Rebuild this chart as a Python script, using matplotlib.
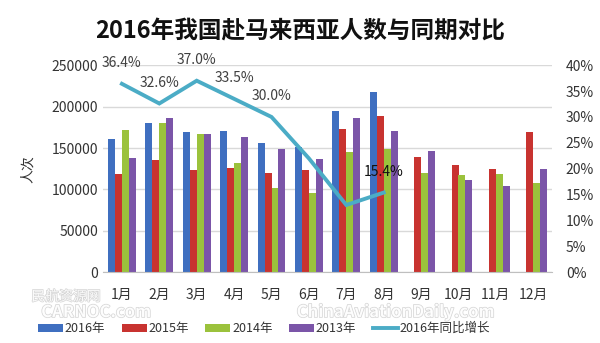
import numpy as np
import matplotlib
matplotlib.use("Agg")
import matplotlib.pyplot as plt
import matplotlib.patheffects as pe

plt.rcParams['font.family'] = ['Noto Sans CJK SC', 'DejaVu Sans']

months = ['1月', '2月', '3月', '4月', '5月', '6月', '7月', '8月', '9月', '10月', '11月', '12月']
nan = np.nan
y2016 = [161000, 180500, 169000, 170000, 156000, 151500, 194500, 218000, nan, nan, nan, nan]
y2015 = [118500, 136000, 123000, 126500, 120000, 123500, 172500, 188500, 139000, 129000, 124500, 169000]
y2014 = [172000, 180000, 167000, 131500, 101500, 95500, 145500, 148500, 120000, 117500, 118500, 107500]
y2013 = [137500, 186000, 167000, 163500, 149000, 136500, 186500, 171000, 147000, 111000, 104500, 124500]
growth = [36.4, 32.6, 37.0, 33.5, 30.0, 22.0, 13.0, 15.4]
growth_labels = ['36.4%', '32.6%', '37.0%', '33.5%', '30.0%', '', '', '15.4%']

series = [('2016年', y2016, '#3f6fc0'),
          ('2015年', y2015, '#c83330'),
          ('2014年', y2014, '#9bc23c'),
          ('2013年', y2013, '#7b55a8')]

fig = plt.figure(figsize=(6, 3.43), dpi=100)
ax = fig.add_axes([0.172, 0.206, 0.748, 0.604])

x = np.arange(len(months))
w = 0.185
handles = []
for i, (name, vals, col) in enumerate(series):
    b = ax.bar(x + (i - 1.5) * w, vals, w, color=col, label=name, zorder=2,
               edgecolor=col, linewidth=0)
    handles.append(b)

ax.set_xlim(-0.5, len(months) - 0.5)
ax.set_ylim(0, 250000)
ax.set_yticks(np.arange(0, 250001, 50000))
ax.set_yticklabels([str(v) for v in range(0, 250001, 50000)])
ax.set_xticks(x)
ax.set_xticklabels(months)
ax.yaxis.grid(True, color='#d9d9d9', linewidth=1, zorder=0)
ax.set_axisbelow(True)
for s in ['top', 'left', 'right']:
    ax.spines[s].set_visible(False)
ax.spines['bottom'].set_color('#bfbfbf')
ax.tick_params(length=0, labelsize=10, colors='#333333')
ax.tick_params(axis='x', pad=11)
ax.set_ylabel('人次', fontsize=10, color='#333333', labelpad=12)

ax2 = ax.twinx()
ax2.set_ylim(0, 40)
ax2.set_yticks(np.arange(0, 41, 5))
ax2.set_yticklabels(['%d%%' % v for v in range(0, 41, 5)])
for s in ['top', 'left', 'right', 'bottom']:
    ax2.spines[s].set_visible(False)
ax2.tick_params(length=0, labelsize=10, colors='#333333', pad=10)
xl = np.arange(len(growth))
line, = ax2.plot(xl, growth, color='#4bacc6', linewidth=2.8, label='2016年同比增长',
                 solid_joinstyle='miter', zorder=3)
for xi, g, lab in zip(xl, growth, growth_labels):
    if lab:
        c = '#111111' if lab == '15.4%' else '#404040'
        ax2.annotate(lab, (xi, g), xytext=(0, 10), textcoords='offset points',
                     ha='center', va='bottom', fontsize=10, color=c)

fig.text(0.5, 0.912, '2016年我国赴马来西亚人数与同期对比', ha='center', va='center',
         fontsize=17, fontweight='bold', color='#111111')

fig.legend(handles + [line], [s[0] for s in series] + ['2016年同比增长'],
           loc='center', bbox_to_anchor=(0.44, 0.042), ncol=5, frameon=False,
           fontsize=9, handlelength=2.0, handleheight=0.6, columnspacing=1.3,
           handletextpad=0.15, labelcolor='#333333')

# faint site watermarks
wm = [pe.withStroke(linewidth=1.0, foreground='#d0d0d0')]
fig.text(0.11, 0.135, '民航资源网', fontsize=10, color='white', alpha=0.9,
         ha='center', va='center', path_effects=wm, zorder=0)
fig.text(0.16, 0.09, 'CARNOC.com', fontsize=12, color='white', alpha=0.9,
         ha='center', va='center', fontweight='bold', path_effects=wm, zorder=0)
fig.text(0.66, 0.09, 'ChinaAviationDaily.com', fontsize=12, color='white', alpha=0.9,
         ha='center', va='center', fontweight='bold', path_effects=wm, zorder=0)

fig.savefig('out.png', dpi=100)
